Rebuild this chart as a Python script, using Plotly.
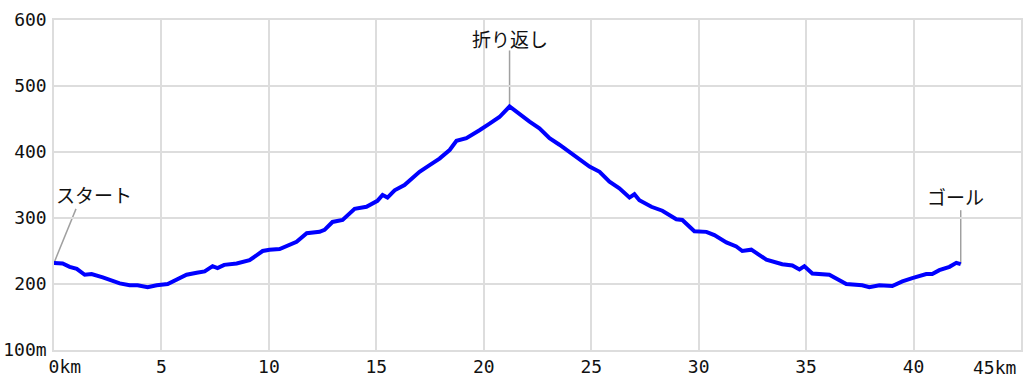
import plotly.graph_objects as go

# Elevation profile (distance in km, elevation in m)
dist_km = [0.00, 0.40, 0.73, 1.06, 1.43, 1.75, 2.27, 3.06, 3.52, 3.89, 4.36, 4.78,
           5.29, 5.71, 6.17, 6.64, 7.01, 7.38, 7.61, 7.92, 8.50, 9.10, 9.71, 10.03,
           10.50, 11.29, 11.76, 12.36, 12.59, 12.96, 13.43, 13.99, 14.54, 15.05, 15.29,
           15.52, 15.85, 16.31, 16.68, 17.01, 17.48, 17.94, 18.41, 18.73, 19.19, 19.47,
           19.80, 20.27, 20.73, 21.20, 21.75, 22.13, 22.59, 23.06, 23.52, 23.85, 24.45,
           24.92, 25.39, 25.85, 26.31, 26.78, 27.01, 27.24, 27.80, 28.31, 28.96, 29.24,
           29.80, 30.36, 30.73, 31.29, 31.75, 32.03, 32.45, 33.15, 33.89, 34.36, 34.69,
           34.92, 35.29, 36.08, 36.87, 37.61, 37.94, 38.41, 39.01, 39.48, 39.94, 40.59,
           40.87, 41.20, 41.67, 41.99, 42.195]
elev_m = [232, 231, 226, 223, 214, 215, 210, 201, 198, 198, 195, 198,
          200, 206, 214, 217, 219, 227, 224, 229, 231, 236, 250, 252,
          253, 264, 277, 279, 282, 294, 297, 314, 317, 326, 335,
          331, 342, 350, 360, 370, 380, 390, 403, 417, 421, 426,
          433, 443, 453, 469, 455, 446, 436, 421, 411, 403, 388,
          378, 370, 355, 345, 331, 336, 327, 317, 311, 298, 297,
          280, 279, 274, 263, 257, 250, 252, 237, 230, 228, 222,
          227, 216, 214, 200, 198, 195, 198, 197, 204, 209, 215,
          215, 221, 226, 232, 230]

x_tickvals = [0, 5, 10, 15, 20, 25, 30, 35, 40]
x_ticktext = ["\u00a0\u00a00km", "5", "10", "15", "20", "25", "30", "35", "40"]
x_last_label = "45km"
y_tickvals = [100, 200, 300, 400, 500, 600]
y_ticktext = ["100m", "200", "300", "400", "500", "600"]

# markers: (label, km, elev)
marker_labels = ["スタート", "折り返し", "ゴール"]
marker_km = [0.0, 21.20, 42.195]
marker_elev = [232, 469, 230]

FONT = "Noto Sans CJK JP, Noto Sans, sans-serif"
TICKFONT = dict(family="DejaVu Sans Mono, monospace", size=18, color="#111111")

fig = go.Figure()
fig.add_trace(go.Scatter(x=dist_km, y=elev_m, mode="lines",
                         line=dict(color="#0000ff", width=4), hoverinfo="skip",
                         showlegend=False))

# leader lines (pixel offsets) and labels
line_offsets = [(22, 54), (0, 56), (0, 54)]
text_offsets = [(40, 68), (0, 68), (-5, 68)]
for lab, xk, ye, (lx, ly), (tx, ty) in zip(marker_labels, marker_km, marker_elev,
                                           line_offsets, text_offsets):
    fig.add_shape(type="line", xref="x", yref="y", xsizemode="pixel", ysizemode="pixel",
                  xanchor=xk, yanchor=ye, x0=0, y0=0, x1=lx, y1=ly,
                  line=dict(color="#a0a0a0", width=1.5), layer="below")
    fig.add_annotation(x=xk, y=ye, xref="x", yref="y", text=lab, showarrow=False,
                       xanchor="center", yanchor="middle", xshift=tx, yshift=ty,
                       font=dict(family=FONT, size=19, color="#111111"))

fig.add_annotation(x=1, y=0, xref="paper", yref="paper", text=x_last_label,
                   showarrow=False, xanchor="right", yanchor="top", xshift=-3, yshift=-5,
                   font=TICKFONT)

fig.update_layout(
    width=1024, height=383,
    margin=dict(l=54, r=3, t=20, b=33, autoexpand=False),
    paper_bgcolor="white", plot_bgcolor="white",
    font=dict(family=FONT, size=19, color="#111111"),
)
fig.update_xaxes(range=[0, 45], tickvals=x_tickvals + [45], ticktext=x_ticktext + [""],
                 tickfont=TICKFONT,
                 showgrid=True, gridcolor="#dddddd", gridwidth=1.5,
                 showline=True, linecolor="#dddddd", linewidth=1.5, mirror=True,
                 zeroline=False, ticks="", fixedrange=True, automargin=False)
fig.update_yaxes(range=[100, 600], tickvals=y_tickvals, ticktext=y_ticktext,
                 tickfont=TICKFONT,
                 showgrid=True, gridcolor="#dddddd", gridwidth=1.5,
                 showline=True, linecolor="#dddddd", linewidth=1.5, mirror=True,
                 zeroline=False, ticks="", ticklabelstandoff=2, fixedrange=True,
                 automargin=False)

fig.write_html("out.html")
